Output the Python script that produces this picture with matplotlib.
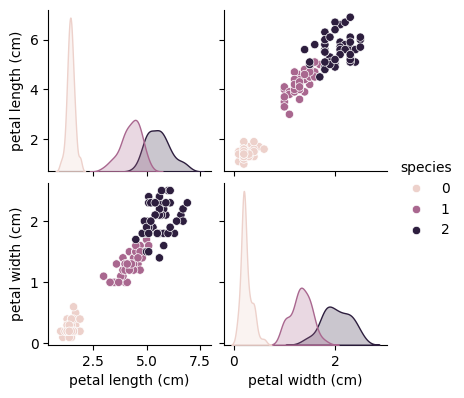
import numpy as np
import pandas as pd
import matplotlib
matplotlib.use("Agg")
import matplotlib.pyplot as plt
import seaborn as sns

# iris petal measurements (cm), in dataset order
petal_length = [
    1.4, 1.4, 1.3, 1.5, 1.4, 1.7, 1.4, 1.5, 1.4, 1.5,
    1.5, 1.6, 1.4, 1.1, 1.2, 1.5, 1.3, 1.4, 1.7, 1.5,
    1.7, 1.5, 1.0, 1.7, 1.9, 1.6, 1.6, 1.5, 1.4, 1.6,
    1.6, 1.5, 1.5, 1.4, 1.5, 1.2, 1.3, 1.4, 1.3, 1.5,
    1.3, 1.3, 1.3, 1.6, 1.9, 1.4, 1.6, 1.4, 1.5, 1.4,
    4.7, 4.5, 4.9, 4.0, 4.6, 4.5, 4.7, 3.3, 4.6, 3.9,
    3.5, 4.2, 4.0, 4.7, 3.6, 4.4, 4.5, 4.1, 4.5, 3.9,
    4.8, 4.0, 4.9, 4.7, 4.3, 4.4, 4.8, 5.0, 4.5, 3.5,
    3.8, 3.7, 3.9, 5.1, 4.5, 4.5, 4.7, 4.4, 4.1, 4.0,
    4.4, 4.6, 4.0, 3.3, 4.2, 4.2, 4.2, 4.3, 3.0, 4.1,
    6.0, 5.1, 5.9, 5.6, 5.8, 6.6, 4.5, 6.3, 5.8, 6.1,
    5.1, 5.3, 5.5, 5.0, 5.1, 5.3, 5.5, 6.7, 6.9, 5.0,
    5.7, 4.9, 6.7, 4.9, 5.7, 6.0, 4.8, 4.9, 5.6, 5.8,
    6.1, 6.4, 5.6, 5.1, 5.6, 6.1, 5.6, 5.5, 4.8, 5.4,
    5.6, 5.1, 5.1, 5.9, 5.7, 5.2, 5.0, 5.2, 5.4, 5.1,
]
petal_width = [
    0.2, 0.2, 0.2, 0.2, 0.2, 0.4, 0.3, 0.2, 0.2, 0.1,
    0.2, 0.2, 0.1, 0.1, 0.2, 0.4, 0.4, 0.3, 0.3, 0.3,
    0.2, 0.4, 0.2, 0.5, 0.2, 0.2, 0.4, 0.2, 0.2, 0.2,
    0.2, 0.4, 0.1, 0.2, 0.2, 0.2, 0.2, 0.1, 0.2, 0.2,
    0.3, 0.3, 0.2, 0.6, 0.4, 0.3, 0.2, 0.2, 0.2, 0.2,
    1.4, 1.5, 1.5, 1.3, 1.5, 1.3, 1.6, 1.0, 1.3, 1.4,
    1.0, 1.5, 1.0, 1.4, 1.3, 1.4, 1.5, 1.0, 1.5, 1.1,
    1.8, 1.3, 1.5, 1.2, 1.3, 1.4, 1.4, 1.7, 1.5, 1.0,
    1.1, 1.0, 1.2, 1.6, 1.5, 1.6, 1.5, 1.3, 1.3, 1.3,
    1.2, 1.4, 1.2, 1.0, 1.3, 1.2, 1.3, 1.3, 1.1, 1.3,
    2.5, 1.9, 2.1, 1.8, 2.2, 2.1, 1.7, 1.8, 1.8, 2.5,
    2.0, 1.9, 2.1, 2.0, 2.4, 2.3, 1.8, 2.2, 2.3, 1.5,
    2.3, 2.0, 2.0, 1.8, 2.1, 1.8, 1.8, 1.8, 2.1, 1.6,
    1.9, 2.0, 2.2, 1.5, 1.4, 2.3, 2.4, 1.8, 1.8, 2.1,
    2.4, 2.3, 1.9, 2.3, 2.5, 2.3, 1.9, 2.0, 2.3, 1.8,
]
species = [0] * 50 + [1] * 50 + [2] * 50

df = pd.DataFrame({
    "petal length (cm)": petal_length,
    "petal width (cm)": petal_width,
    "species": species,
})

g = sns.pairplot(df, hue="species", height=2)
plt.savefig("out.png", bbox_inches="tight")
